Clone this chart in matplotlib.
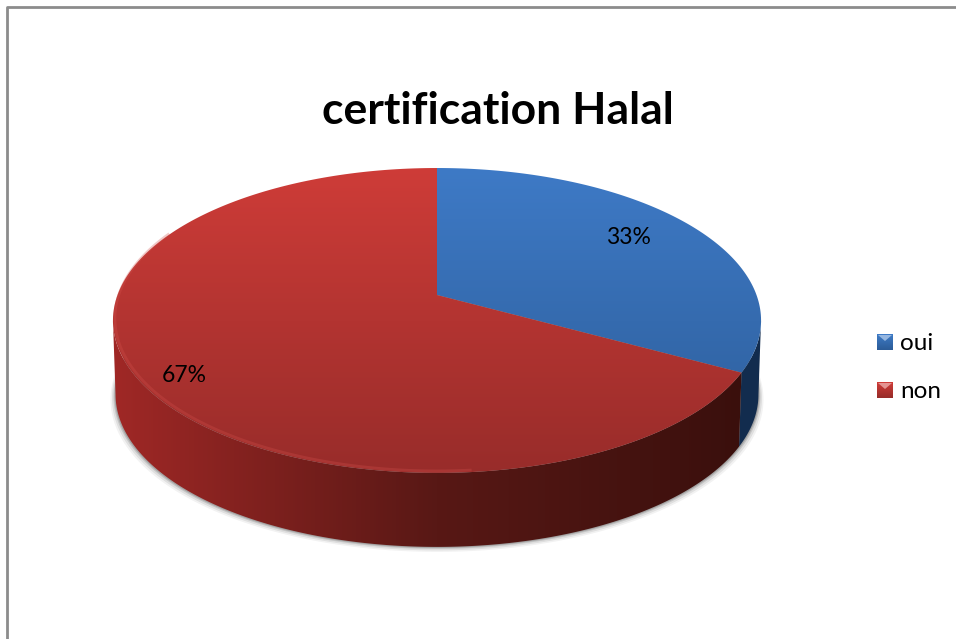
import numpy as np
import matplotlib
matplotlib.use('Agg')
import matplotlib.pyplot as plt
from matplotlib.patches import Polygon

# Data
categories = ['oui', 'non']
values = [33, 67]
title = 'certification Halal'

# Colours: top of the disc (far / near), side wall (left / middle / right)
top_far = [(62, 122, 198), (206, 60, 56)]
top_near = [(44, 92, 152), (152, 44, 42)]
side_stops = [[(24, 60, 104), (22, 52, 92), (18, 44, 78)],
              [(160, 40, 38), (88, 24, 21), (56, 15, 12)]]

plt.rcParams['font.family'] = ['Lato', 'DejaVu Sans']

fig = plt.figure(figsize=(9.56, 6.39), dpi=100)
ax = fig.add_axes([0, 0, 1, 1])
ax.axis('off')

tilt = 0.167


def disc(t, drop=0.0, shrink=1.0):
    # t is the clockwise angle from 12 o'clock, perspective view of a circle
    u = np.sin(t)
    v = np.cos(t)
    w = 1 + tilt * v
    return 437 + shrink * 319.5 * u / w, 295 - 148.2 * v / w + drop


def blend(a, b, f):
    return tuple((a[i] + (b[i] - a[i]) * f) / 255 for i in range(3))


# Frame of the chart area
ax.plot([7, 7, 956], [639, 6.5, 6.5], color='#8c8c8c', lw=2)

# Slice angles
fractions = np.array(values) / sum(values)
edges = np.concatenate([[0], np.cumsum(fractions)]) * 2 * np.pi

# Soft shadow under the disc
tt = np.linspace(0, 2 * np.pi, 300)
for grow, alpha in [(5, 0.05), (3.5, 0.08), (2, 0.12), (1, 0.16)]:
    sx, sy = disc(tt, drop=74 + grow, shrink=0.992 + grow / 320)
    ax.fill(sx, sy, color='black', alpha=alpha, lw=0)

# Side wall with a horizontal gradient, only the part facing the viewer
silhouette = np.arccos(-tilt)
for i in range(len(values)):
    lo = max(edges[i], silhouette)
    hi = min(edges[i + 1], 2 * np.pi - silhouette)
    arc = np.linspace(lo, hi, 200)
    x1, y1 = disc(arc)
    x2, y2 = disc(arc[::-1], drop=74, shrink=0.992)
    pts = np.column_stack([np.r_[x1, x2], np.r_[y1, y2]])
    grad = np.linspace(0, 1, 512)
    stops = np.array(side_stops[i], dtype=float)
    img = np.stack([np.interp(grad, [0, 0.5, 1], stops[:, c]) for c in range(3)], axis=-1)[None, :, :]
    im = ax.imshow(img / 255, extent=[112, 762, 560, 300], aspect='auto', zorder=1)
    im.set_clip_path(Polygon(pts, closed=True, transform=ax.transData))

# Top of the disc with a vertical gradient
rim_range = [None, (175, 295)]
for i in range(len(values)):
    t = np.linspace(edges[i], edges[i + 1], 200)
    x, y = disc(t)
    pts = np.column_stack([np.r_[437, x], np.r_[295, y]])
    grad = np.linspace(0, 1, 256)[:, None, None]
    img = np.array(top_far[i])[None, None, :] * (1 - grad) + np.array(top_near[i])[None, None, :] * grad
    im = ax.imshow(img / 255, extent=[100, 770, 474, 168], aspect='auto', zorder=2)
    im.set_clip_path(Polygon(pts, closed=True, transform=ax.transData))

    # lighter rim along the front left edge
    if rim_range[i]:
        rim = np.radians(np.linspace(rim_range[i][0], rim_range[i][1], 120))
        rx, ry = disc(rim, drop=-2, shrink=0.994)
        ax.plot(rx, ry, color=blend(top_far[i], (255, 255, 255), 0.1), lw=2, alpha=0.3, zorder=3)

# Percent labels
label_pos = [(628, 237), (184, 375)]
for (lx, ly), v in zip(label_pos, values):
    ax.text(lx, ly, '%d%%' % v, fontsize=16.5, color='black', ha='center', va='center', zorder=4)

# Title
ax.text(498, 111, title, fontsize=32, fontweight='bold', color='black', ha='center', va='center')

# Legend with small bevelled swatches
legend_y = [342, 390]
for i, (name, ly) in enumerate(zip(categories, legend_y)):
    grad = np.linspace(0, 1, 16)[:, None, None]
    img = np.array(top_far[i])[None, None, :] * (1 - grad) + np.array(top_near[i])[None, None, :] * grad
    ax.imshow(img / 255, extent=[877, 893, ly + 8, ly - 8], aspect='auto', zorder=2)
    ax.fill([878, 892, 885], [ly - 7, ly - 7, ly - 1], color=blend(top_far[i], (255, 255, 255), 0.45), lw=0, zorder=3)
    ax.text(900, ly + 2, name, fontsize=17.5, color='black', ha='left', va='center')

ax.set_xlim(0, 956)
ax.set_ylim(639, 0)

fig.savefig('out.png', dpi=100)
